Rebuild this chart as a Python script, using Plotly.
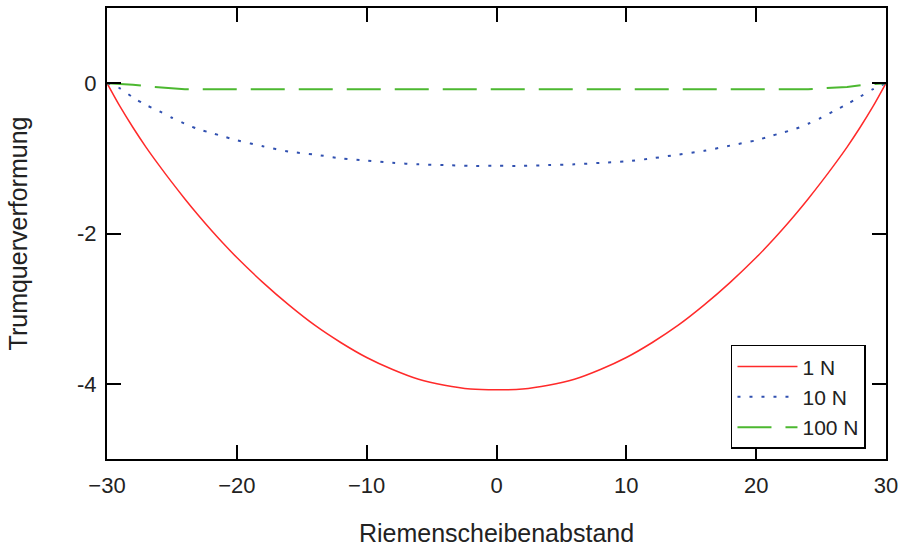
import plotly.graph_objects as go

# x positions (Riemenscheibenabstand)
x_red = [-30, -29, -28, -27, -26, -25, -24, -23, -22, -21, -20, -18, -16, -14, -12, -10, -8, -6, -4, -2,
         0, 2, 4, 6, 8, 10, 12, 14, 16, 18, 20, 21, 22, 23, 24, 25, 26, 27, 28, 29, 30]
y_red = [0, -0.31, -0.59, -0.85, -1.09, -1.32, -1.54, -1.75, -1.95, -2.14, -2.32, -2.65, -2.95, -3.22,
         -3.45, -3.65, -3.81, -3.94, -4.02, -4.07, -4.08, -4.07, -4.02, -3.94, -3.81, -3.65, -3.45,
         -3.22, -2.95, -2.65, -2.32, -2.14, -1.95, -1.75, -1.54, -1.32, -1.09, -0.85, -0.59, -0.31, 0]

x_blue = x_red
y_blue = [0, -0.07, -0.19, -0.29, -0.37, -0.46, -0.54, -0.61, -0.66, -0.71, -0.76, -0.84, -0.91, -0.95,
          -1.00, -1.03, -1.06, -1.08, -1.09, -1.10, -1.10, -1.10, -1.09, -1.08, -1.06, -1.04, -1.00,
          -0.95, -0.90, -0.83, -0.76, -0.71, -0.66, -0.61, -0.54, -0.46, -0.37, -0.28, -0.18, -0.08, 0]

x_green = [-30, -28, -26.5, -25, -24, -20, -10, 0, 10, 20, 24, 25, 27, 28.5, 30]
y_green = [0, -0.02, -0.05, -0.07, -0.08, -0.082, -0.082, -0.082, -0.082, -0.082, -0.08, -0.07, -0.05, -0.02, 0]

names = ["1 N", "10 N", "100 N"]
x_ticks = [-30, -20, -10, 0, 10, 20, 30]
x_ticklabels = ["\u221230", "\u221220", "\u221210", "0", "10", "20", "30"]
y_ticks = [-4, -2, 0]
y_ticklabels = ["-4", "-2", "0"]

fig = go.Figure()
fig.add_trace(go.Scatter(x=x_red, y=y_red, mode="lines", name=names[0],
                         line=dict(color="#ff2a2a", width=1.5, shape="spline", smoothing=0.8)))
fig.add_trace(go.Scatter(x=x_blue, y=y_blue, mode="lines", name=names[1],
                         line=dict(color="#3050b0", width=2, dash="3px,9px", shape="spline", smoothing=0.8)))
fig.add_trace(go.Scatter(x=x_green, y=y_green, mode="lines", name=names[2],
                         line=dict(color="#4cb830", width=2, dash="34px,14px")))

font = "Liberation Sans, Arial, sans-serif"
axis_common = dict(showline=True, linecolor="black", linewidth=2, mirror="ticks",
                   ticks="inside", ticklen=14, tickwidth=2, tickcolor="black",
                   showgrid=False, zeroline=False, automargin=False,
                   tickfont=dict(family=font, size=22, color="#222"))
fig.update_xaxes(range=[-30, 30], tickvals=x_ticks, ticktext=x_ticklabels,
                 title=dict(text="Riemenscheibenabstand", font=dict(family=font, size=25, color="#222"),
                            standoff=30),
                 ticklabelstandoff=6, **axis_common)
fig.update_yaxes(range=[-5, 1], tickvals=y_ticks, ticktext=y_ticklabels,
                 title=dict(text="Trumquerverformung", font=dict(family=font, size=25, color="#222"),
                            standoff=42),
                 ticklabelstandoff=4, **axis_common)

fig.update_layout(
    width=901, height=547,
    margin=dict(l=107, r=15, t=8, b=88, autoexpand=False),
    paper_bgcolor="white", plot_bgcolor="white",
    showlegend=True,
    legend=dict(x=0.801, y=0.253, xanchor="left", yanchor="top",
                bgcolor="white", bordercolor="black", borderwidth=1.5,
                font=dict(family=font, size=21, color="#222"),
                itemwidth=60, tracegroupgap=0),
)

fig.write_html("out.html")
